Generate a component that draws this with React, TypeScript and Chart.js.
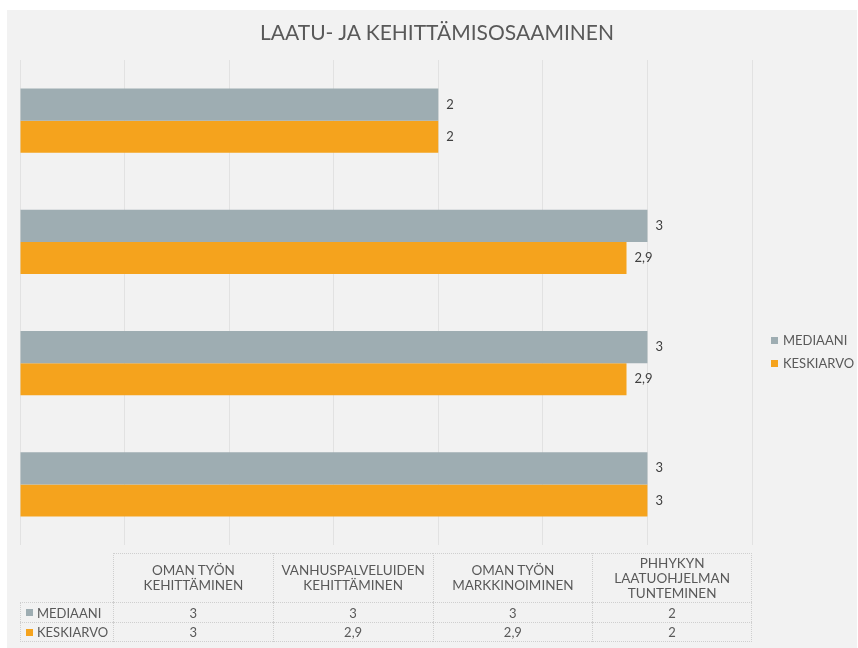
import React, { useEffect, useRef } from "react";
import { Chart, registerables } from "chart.js";

Chart.register(...registerables);

const chartTitle = "LAATU- JA KEHITTÄMISOSAAMINEN";
const categories = [
  "OMAN TYÖN KEHITTÄMINEN",
  "VANHUSPALVELUIDEN KEHITTÄMINEN",
  "OMAN TYÖN MARKKINOIMINEN",
  "PHHYKYN LAATUOHJELMAN TUNTEMINEN",
];
const categoryLines = [
  ["OMAN TYÖN", "KEHITTÄMINEN"],
  ["VANHUSPALVELUIDEN", "KEHITTÄMINEN"],
  ["OMAN TYÖN", "MARKKINOIMINEN"],
  ["PHHYKYN", "LAATUOHJELMAN", "TUNTEMINEN"],
];
const seriesNames = ["MEDIAANI", "KESKIARVO"];
const medianValues = [3, 3, 3, 2];
const meanValues = [3, 2.9, 2.9, 2];
const xMin = 0;
const xMax = 3.5;
const xStep = 0.5;

const GREY = "#9eadb2";
const ORANGE = "#f5a31d";
const TEXT = "#595959";
const FONT = "Lato, 'Open Sans', sans-serif";

const fmt = (v: number) => String(v).replace(".", ",");

const W = 858;
const H = 648;
const PLOT_LEFT = 20;
const PLOT_RIGHT = 752;
const PLOT_TOP = 60;
const PLOT_BOTTOM = 545;

const valueLabels = {
  id: "valueLabels",
  afterDatasetsDraw(chart: any) {
    const ctx = chart.ctx;
    ctx.save();
    ctx.font = `13px ${FONT}`;
    ctx.fillStyle = "#404040";
    ctx.textAlign = "left";
    ctx.textBaseline = "middle";
    chart.data.datasets.forEach((ds: any, di: number) => {
      const meta = chart.getDatasetMeta(di);
      meta.data.forEach((bar: any, i: number) => {
        ctx.fillText(fmt(ds.data[i]), bar.x + 8, bar.y);
      });
    });
    ctx.restore();
  },
};

export default function App() {
  const ref = useRef<HTMLCanvasElement | null>(null);

  useEffect(() => {
    if (!ref.current) return;
    // horizontal bars: first label at top, so reverse the table order
    const labels = [...categories].reverse();
    const chart = new Chart(ref.current, {
      type: "bar",
      data: {
        labels,
        datasets: [
          {
            label: seriesNames[0],
            data: [...medianValues].reverse(),
            backgroundColor: GREY,
            barPercentage: 1,
            categoryPercentage: 0.53,
          },
          {
            label: seriesNames[1],
            data: [...meanValues].reverse(),
            backgroundColor: ORANGE,
            barPercentage: 1,
            categoryPercentage: 0.53,
          },
        ],
      },
      options: {
        indexAxis: "y",
        animation: false,
        responsive: false,
        devicePixelRatio: 1,
        layout: {
          padding: {
            left: PLOT_LEFT,
            right: W - PLOT_RIGHT,
            top: PLOT_TOP,
            bottom: H - PLOT_BOTTOM,
          },
        },
        scales: {
          x: {
            min: xMin,
            max: xMax,
            ticks: { display: false, stepSize: xStep },
            grid: { color: "#e2e2e2", drawTicks: false, lineWidth: 1 },
            border: { display: false },
          },
          y: {
            display: false,
            ticks: { display: false },
            grid: { display: false, drawTicks: false },
            border: { display: false },
          },
        },
        plugins: {
          legend: { display: false },
          title: { display: false },
          tooltip: { enabled: false },
        },
      },
      plugins: [valueLabels],
    });
    return () => chart.destroy();
  }, []);

  const colLeft = 113;
  const colW = 159.75;
  const headerTop = 553;
  const headerBottom = 602;
  const rowH = 20;
  const border = "1px dotted #cfcfcf";
  const seriesData = [medianValues, meanValues];
  const seriesColors = [GREY, ORANGE];

  return (
    <div
      style={{
        position: "absolute",
        left: 0,
        top: 0,
        width: W,
        height: H,
        background: "#ffffff",
        overflow: "hidden",
        fontFamily: FONT,
        color: TEXT,
      }}
    >
      <div
        style={{
          position: "absolute",
          left: 7,
          top: 10,
          width: 850,
          height: H - 10,
          background: "#f2f2f2",
        }}
      />
      <canvas
        ref={ref}
        width={W}
        height={H}
        style={{ position: "absolute", left: 0, top: 0, width: W, height: H }}
      />
      <div
        style={{
          position: "absolute",
          left: 0,
          width: 874,
          top: 18,
          textAlign: "center",
          fontSize: 21,
          color: "#595959",
          lineHeight: "28px",
          whiteSpace: "nowrap",
        }}
      >
        {chartTitle}
      </div>
      {/* legend */}
      {seriesNames.map((name, i) => (
        <div
          key={name}
          style={{
            position: "absolute",
            left: 771,
            top: 332 + i * 23,
            height: 16,
            display: "flex",
            alignItems: "center",
            fontSize: 13,
            whiteSpace: "nowrap",
          }}
        >
          <span
            style={{
              display: "inline-block",
              width: 7,
              height: 7,
              background: seriesColors[i],
              marginRight: 5,
            }}
          />
          {name}
        </div>
      ))}
      {/* data table */}
      {categoryLines.map((lines, c) => (
        <div
          key={"h" + c}
          style={{
            position: "absolute",
            left: colLeft + c * colW,
            top: headerTop,
            width: colW,
            height: headerBottom - headerTop,
            borderTop: border,
            borderLeft: border,
            borderRight: c === categoryLines.length - 1 ? border : undefined,
            boxSizing: "border-box",
            display: "flex",
            flexDirection: "column",
            justifyContent: "center",
            alignItems: "center",
            fontSize: 13.5,
            lineHeight: "15px",
            textAlign: "center",
          }}
          title={categories[c]}
        >
          {lines.map((l) => (
            <div key={l}>{l}</div>
          ))}
        </div>
      ))}
      {seriesNames.map((name, r) => (
        <React.Fragment key={"r" + r}>
          <div
            style={{
              position: "absolute",
              left: PLOT_LEFT,
              top: headerBottom + r * rowH,
              width: colLeft - PLOT_LEFT,
              height: rowH,
              borderTop: border,
              borderLeft: border,
              borderBottom: r === seriesNames.length - 1 ? border : undefined,
              boxSizing: "border-box",
              display: "flex",
              alignItems: "center",
              paddingLeft: 5,
              fontSize: 13,
              whiteSpace: "nowrap",
            }}
          >
            <span
              style={{
                display: "inline-block",
                width: 7,
                height: 7,
                background: seriesColors[r],
                marginRight: 4,
              }}
            />
            {name}
          </div>
          {seriesData[r].map((v, c) => (
            <div
              key={c}
              style={{
                position: "absolute",
                left: colLeft + c * colW,
                top: headerBottom + r * rowH,
                width: colW,
                height: rowH,
                borderTop: border,
                borderLeft: border,
                borderRight: c === categories.length - 1 ? border : undefined,
                borderBottom: r === seriesNames.length - 1 ? border : undefined,
                boxSizing: "border-box",
                display: "flex",
                alignItems: "center",
                justifyContent: "center",
                fontSize: 13,
              }}
            >
              {fmt(v)}
            </div>
          ))}
        </React.Fragment>
      ))}
    </div>
  );
}
